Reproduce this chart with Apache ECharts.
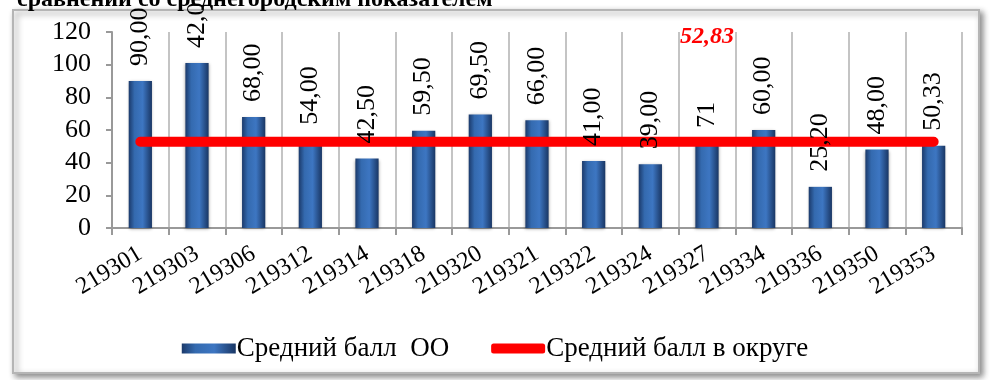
<!DOCTYPE html>
<html>
<head>
<meta charset="utf-8">
<script src="https://cdn.jsdelivr.net/npm/echarts@6/dist/echarts.min.js"></script>
<style>html,body{margin:0;padding:0;background:#fff;}#c{width:990px;height:380px;}</style>
</head>
<body>
<div id="c"></div>
<script>
var categories = ['219301','219303','219306','219312','219314','219318','219320','219321','219322','219324','219327','219334','219336','219350','219353'];
var schoolValues = [90, 101, 68, 54, 42.5, 59.5, 69.5, 66, 41, 39, 52, 60, 25.2, 48, 50.33];
var schoolLabels = ['90,00','42,0','68,00','54,00','42,50','59,50','69,50','66,00','41,00','39,00','71','60,00','25,20','48,00','50,33'];
var districtValue = 52.83;
var districtLabel = '52,83';
var districtLabelIndex = 10;
var yTicks = [0, 20, 40, 60, 80, 100, 120];
var seriesNames = ['Средний балл  ОО', 'Средний балл в округе'];
var titleText = 'сравнений со среднегородским показателем';

var districtValues = categories.map(function(){ return districtValue; });
var serif = '"Liberation Serif", "DejaVu Serif", serif';
var barGrad = new echarts.graphic.LinearGradient(0,0,1,0,[
  {offset:0,color:'#1b3a6b'},{offset:0.25,color:'#346aaf'},{offset:0.6,color:'#3d76c2'},{offset:1,color:'#193664'}]);

var chart = echarts.init(document.getElementById('c'));
chart.setOption({
  animation:false,
  backgroundColor:'#fff',
  textStyle:{fontFamily:serif},
  title:{text:titleText,left:12,top:-17,textStyle:{fontFamily:serif,fontSize:24,fontWeight:'bold',color:'#000'}},
  graphic:[{type:'rect',z:-10,shape:{x:13,y:10,width:966,height:363},
    style:{fill:'#fff',stroke:'#b5b5b5',lineWidth:2,shadowBlur:6,shadowOffsetX:3,shadowOffsetY:3,shadowColor:'rgba(0,0,0,0.45)'}}],
  grid:{left:112,right:28,top:32,bottom:152,containLabel:false},
  legend:{bottom:13,left:'center',itemGap:42,itemWidth:54,itemHeight:10,
    textStyle:{fontFamily:serif,fontSize:27,color:'#000',padding:[0,0,0,-4]},
    data:[{name:seriesNames[0],icon:'rect'},{name:seriesNames[1],icon:'roundRect'}]},
  xAxis:{type:'category',data:categories,boundaryGap:true,
    axisLine:{lineStyle:{color:'#999',width:2}},
    axisTick:{show:true,length:7,lineStyle:{color:'#999',width:2}},
    splitLine:{show:true,lineStyle:{color:'#c4c4c4',width:2}},
    axisLabel:{rotate:31,margin:24,fontFamily:serif,fontSize:24,color:'#000',interval:0}},
  yAxis:{type:'value',min:yTicks[0],max:yTicks[yTicks.length-1],interval:yTicks[1]-yTicks[0],
    axisLine:{show:true,lineStyle:{color:'#999',width:2}},
    axisTick:{show:true,inside:false,length:6,lineStyle:{color:'#999',width:2}},
    splitLine:{show:false},
    axisLabel:{margin:21,fontFamily:serif,fontSize:26,color:'#000'}},
  series:[
    {name:seriesNames[0],type:'bar',data:schoolValues,barWidth:'41%',z:2,
      itemStyle:{color:barGrad,shadowBlur:3,shadowColor:'rgba(0,0,0,0.35)',shadowOffsetY:1}},
    {name:seriesNames[1],type:'line',data:districtValues,symbol:'none',z:3,color:'#ff0000',
      lineStyle:{color:'#ff0000',width:10,cap:'round'},
      markPoint:{symbol:'circle',symbolSize:0,silent:true,
        data:[{coord:[districtLabelIndex,districtValue],value:districtLabel}],
        label:{show:true,position:'top',offset:[0,-88],fontFamily:serif,fontSize:24,fontWeight:'bold',fontStyle:'italic',color:'#ff0000',
          formatter:function(){return districtLabel;}}}},
    {name:'labels',type:'bar',data:schoolValues,barWidth:'41%',barGap:'-100%',z:4,silent:true,
      itemStyle:{color:'rgba(0,0,0,0)'},
      label:{show:true,position:'top',rotate:90,align:'left',verticalAlign:'middle',distance:15,
        fontFamily:serif,fontSize:26,color:'#000',
        formatter:function(p){return schoolLabels[p.dataIndex];}}}
  ]
});
</script>
</body>
</html>
